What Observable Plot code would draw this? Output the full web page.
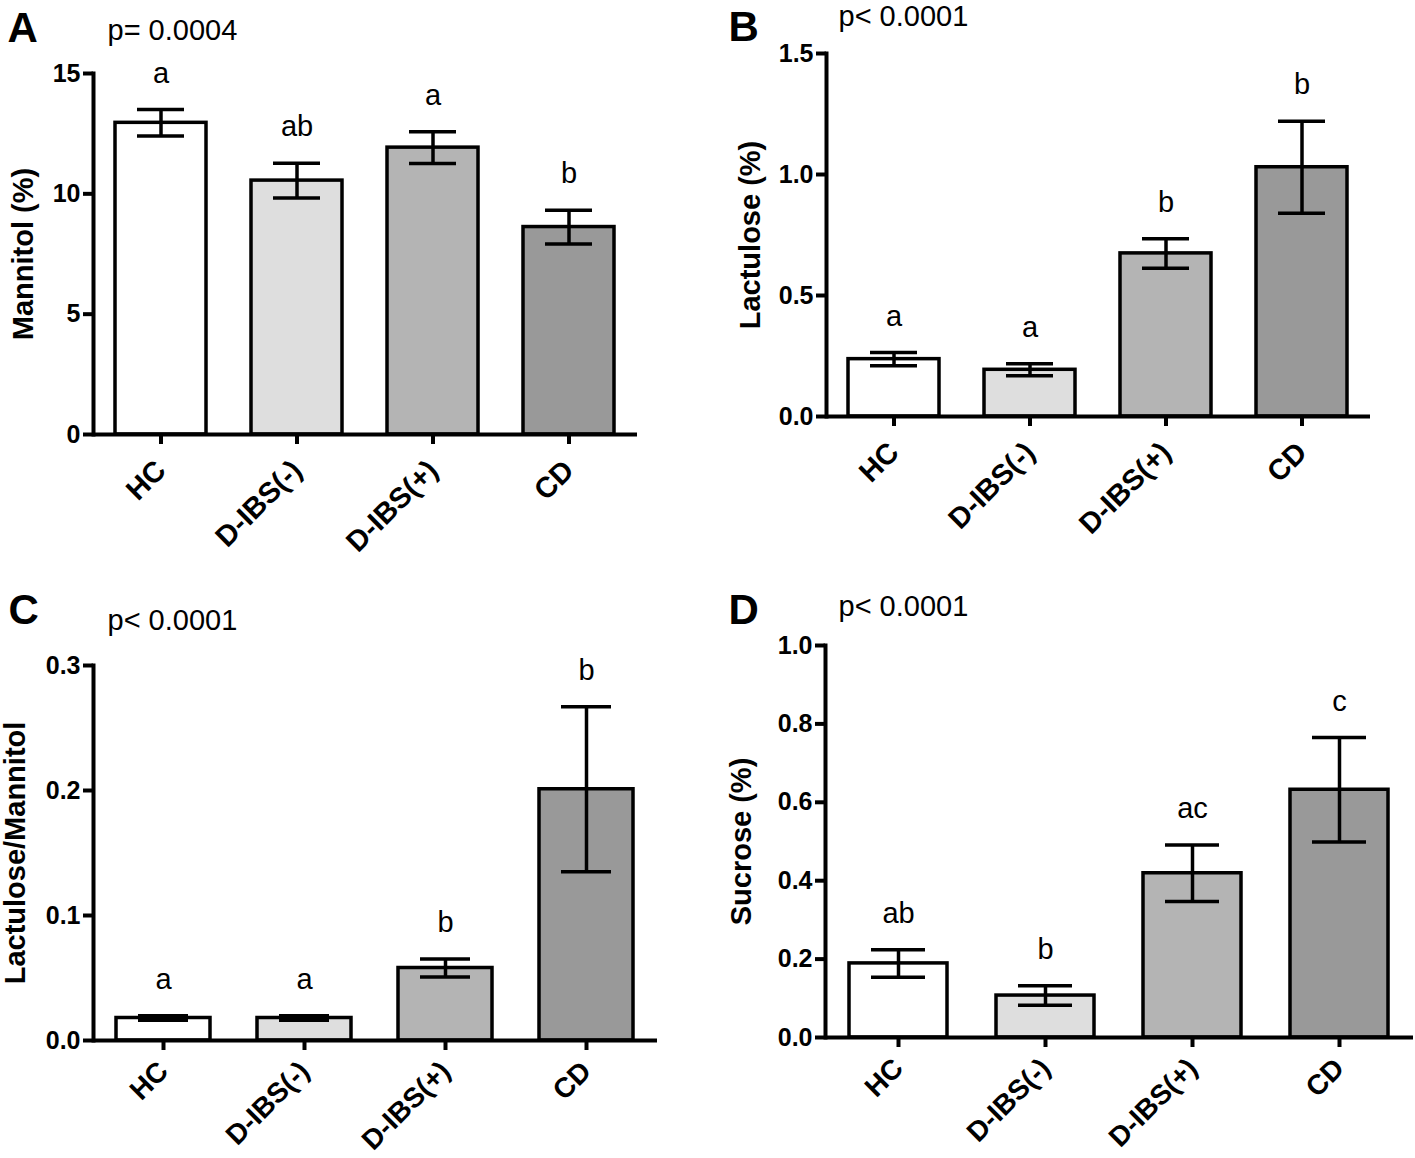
<!DOCTYPE html>
<html><head><meta charset="utf-8">
<script src="https://cdn.jsdelivr.net/npm/d3@7"></script>
<script src="https://cdn.jsdelivr.net/npm/@observablehq/plot@0.6"></script>
<style>
body{margin:0;background:#fff;}
#wrap{position:relative;width:1415px;height:1158px;overflow:hidden;background:#fff;}
#wrap svg{position:absolute;}
</style></head><body><div id="wrap"></div>
<script>
// ---- data ----
const groups = ["HC", "D-IBS(-)", "D-IBS(+)", "CD"];
const groupFills = ["#ffffff", "#dedede", "#b4b4b4", "#999999"];

const mannitolMean = [12.95, 10.55, 11.92, 8.62];
const mannitolSem = [0.55, 0.72, 0.66, 0.70];
const mannitolLetters = ["a", "ab", "a", "b"];
const mannitolTicks = [0, 5, 10, 15];

const lactuloseMean = [0.237, 0.193, 0.674, 1.030];
const lactuloseSem = [0.027, 0.025, 0.061, 0.19];
const lactuloseLetters = ["a", "a", "b", "b"];
const lactuloseTicks = [0, 0.5, 1.0, 1.5];

const ratioMean = [0.018, 0.018, 0.058, 0.201];
const ratioSem = [0.0018, 0.0018, 0.0072, 0.066];
const ratioLetters = ["a", "a", "b", "b"];
const ratioTicks = [0, 0.1, 0.2, 0.3];

const sucroseMean = [0.189, 0.107, 0.419, 0.632];
const sucroseSem = [0.035, 0.025, 0.072, 0.133];
const sucroseLetters = ["ab", "b", "ac", "c"];
const sucroseTicks = [0, 0.2, 0.4, 0.6, 0.8, 1.0];

const panelNames = ["A", "B", "C", "D"];
const pValues = ["p= 0.0004", "p< 0.0001", "p< 0.0001", "p< 0.0001"];
const yTitles = ["Mannitol (%)", "Lactulose (%)", "Lactulose/Mannitol", "Sucrose (%)"];

const panels = [
  {mean: mannitolMean, sem: mannitolSem, letters: mannitolLetters, ticks: mannitolTicks, fmt: d3.format("d")},
  {mean: lactuloseMean, sem: lactuloseSem, letters: lactuloseLetters, ticks: lactuloseTicks, fmt: d3.format(".1f")},
  {mean: ratioMean, sem: ratioSem, letters: ratioLetters, ticks: ratioTicks, fmt: d3.format(".1f")},
  {mean: sucroseMean, sem: sucroseSem, letters: sucroseLetters, ticks: sucroseTicks, fmt: d3.format(".1f")}
];

// ---- layout (positions, sizes) ----
const layouts = [
  {left: 0,   top: 0,   width: 707, height: 579, mL: 93,  mT: 73, mB: 145, mR: 70, pDx: 14, pDy: -43, lDx: -86, lDy: -45, tDx: -70, xFs: 29, xDy: 31},
  {left: 707, top: 0,   width: 708, height: 579, mL: 119, mT: 53, mB: 163, mR: 45, pDx: 12, pDy: -37, lDx: -98, lDy: -26, tDx: -76, xFs: 29, xDy: 31},
  {left: 0,   top: 579, width: 707, height: 579, mL: 93,  mT: 86, mB: 118, mR: 50, pDx: 14, pDy: -45, lDx: -85, lDy: -55, tDx: -78, xFs: 28, xDy: 26},
  {left: 707, top: 579, width: 708, height: 579, mL: 118, mT: 66, mB: 121, mR: 2,  pDx: 13, pDy: -39, lDx: -97, lDy: -35, tDx: -84, xFs: 28, xDy: 26}
];

const FONT = "'Liberation Sans', Arial, Helvetica, sans-serif";
const wrap = document.getElementById("wrap");

panels.forEach((p, k) => {
  const L = layouts[k];
  const rows = groups.map((g, i) => ({
    group: g, fill: groupFills[i], mean: p.mean[i],
    lo: p.mean[i] - p.sem[i], hi: p.mean[i] + p.sem[i], letter: p.letters[i]
  }));
  const ymax = p.ticks[p.ticks.length - 1];
  const chart = Plot.plot({
    width: L.width, height: L.height,
    marginLeft: L.mL, marginTop: L.mT, marginBottom: L.mB, marginRight: L.mR,
    style: {fontFamily: FONT, background: "transparent", overflow: "visible", color: "#000"},
    x: {domain: groups, paddingInner: 0.33, paddingOuter: 0.165, axis: null},
    y: {domain: [0, ymax], axis: null, label: null},
    color: {type: "identity"},
    marks: [
      Plot.barY(rows, {x: "group", y: "mean", fill: "fill", stroke: "#000", strokeWidth: 3.5}),
      Plot.ruleX(rows, {x: "group", y1: "lo", y2: "hi", stroke: "#000", strokeWidth: 3.5}),
      Plot.tickY(rows, {x: "group", y: "hi", stroke: "#000", strokeWidth: 3.5, insetLeft: 22, insetRight: 22}),
      Plot.tickY(rows, {x: "group", y: "lo", stroke: "#000", strokeWidth: 3.5, insetLeft: 22, insetRight: 22}),
      Plot.text(rows, {x: "group", y: "hi", text: "letter", lineAnchor: "bottom", dy: -27, fontSize: 29, fill: "#000"}),
      Plot.axisY({ticks: p.ticks, tickFormat: p.fmt, tickSize: 10, tickPadding: 3, fontSize: 25, fontWeight: "bold", strokeWidth: 4, label: null, fill: "#000", stroke: "#000"}),
      Plot.axisX({tickSize: 10, tickFormat: () => "", strokeWidth: 4, label: null, stroke: "#000"}),
      Plot.ruleY([0], {stroke: "#000", strokeWidth: 4}),
      Plot.frame({anchor: "left", stroke: "#000", strokeWidth: 4}),
      Plot.text(groups, {x: d => d, text: d => d, frameAnchor: "bottom", rotate: -45, textAnchor: "end", lineAnchor: "middle", dx: 0, dy: L.xDy, fontSize: L.xFs, fontWeight: "bold", fill: "#000"}),
      Plot.text([yTitles[k]], {text: d => d, frameAnchor: "left", rotate: -90, dx: L.tDx, lineAnchor: "middle", textAnchor: "middle", fontSize: 29, fontWeight: "bold", fill: "#000"}),
      Plot.text([pValues[k]], {text: d => d, frameAnchor: "top-left", textAnchor: "start", lineAnchor: "middle", dx: L.pDx, dy: L.pDy, fontSize: 29, fill: "#000"}),
      Plot.text([panelNames[k]], {text: d => d, frameAnchor: "top-left", textAnchor: "start", lineAnchor: "middle", dx: L.lDx, dy: L.lDy, fontSize: 42, fontWeight: "bold", fill: "#000"})
    ]
  });
  chart.style.left = L.left + "px";
  chart.style.top = L.top + "px";
  wrap.appendChild(chart);
});
</script>
</body></html>
